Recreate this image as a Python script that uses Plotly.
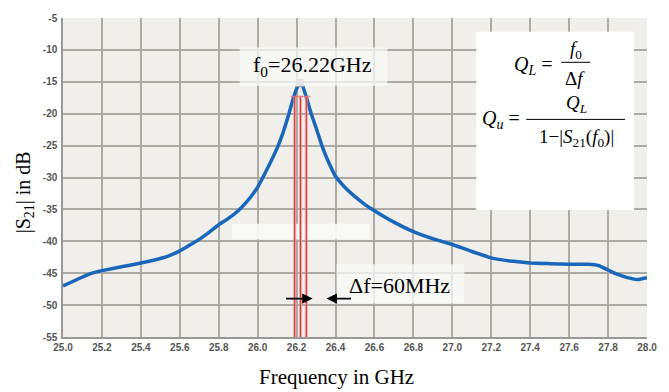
import plotly.graph_objects as go

# ---- data ----
freq_ghz = [25.0, 25.05, 25.1, 25.15, 25.2, 25.3, 25.4, 25.5, 25.55, 25.6, 25.65, 25.7,
            25.75, 25.8, 25.85, 25.9, 25.95, 26.0, 26.05, 26.1, 26.13, 26.16, 26.18,
            26.2, 26.215, 26.23, 26.25, 26.275, 26.3, 26.33, 26.36, 26.4, 26.45, 26.5,
            26.55, 26.6, 26.7, 26.8, 26.9, 27.0, 27.1, 27.2, 27.3, 27.4, 27.5, 27.6,
            27.7, 27.75, 27.8, 27.85, 27.9, 27.95, 28.0]
s21_db = [-47.0, -46.3, -45.6, -45.0, -44.6, -44.0, -43.4, -42.7, -42.2, -41.5, -40.6, -39.7,
          -38.6, -37.4, -36.4, -35.2, -33.6, -31.5, -28.6, -25.4, -23.0, -20.1, -17.9,
          -16.1, -15.2, -15.6, -17.4, -20.0, -22.2, -25.0, -27.3, -29.8, -31.6, -33.0,
          -34.2, -35.2, -37.0, -38.5, -39.6, -40.5, -41.6, -42.6, -43.1, -43.4, -43.5, -43.6,
          -43.6, -43.8, -44.5, -45.2, -45.7, -46.0, -45.7]

peak_f = [26.215]
peak_db = [-15.2]

bw_lines_f = [26.19, 26.22, 26.25]   # red marker lines
bw_level_db = -17.3
bw_h_span = [26.17, 26.27]

x_ticks = [25.0 + 0.2 * i for i in range(16)]
x_ticklabels = [f"{v:.1f}" for v in x_ticks]
y_ticks = [-5, -10, -15, -20, -25, -30, -35, -40, -45, -50, -55]
y_ticklabels = [str(v) for v in y_ticks]

# ---- layout geometry helpers (pixel -> paper) ----
L, R, T, B = 63, 648, 13, 337
def px(x):
    return (x - L) / (R - L)
def py(y):
    return (B - y) / (B - T)

SERIF = "Liberation Serif, Times New Roman, serif"

fig = go.Figure()
fig.add_trace(go.Scatter(x=freq_ghz, y=s21_db, mode="lines",
                         line=dict(color="#1a66b8", width=3.5, shape="spline", smoothing=0.3),
                         hoverinfo="skip", showlegend=False))
fig.add_trace(go.Scatter(x=peak_f, y=peak_db, mode="markers",
                         marker=dict(symbol="square", size=8, color="#9a9a9a"),
                         hoverinfo="skip", showlegend=False))

shapes = []
# faint white strip artifact
shapes.append(dict(type="rect", xref="paper", yref="paper", x0=px(232), x1=px(370),
                   y0=py(238), y1=py(222), fillcolor="rgba(250,250,250,0.9)",
                   line=dict(width=0), layer="above"))
# red bandwidth lines
for f in bw_lines_f:
    shapes.append(dict(type="line", xref="x", yref="y", x0=f, x1=f, y0=bw_level_db, y1=-55,
                       line=dict(color="rgba(240,140,140,0.7)", width=3), layer="above"))
    shapes.append(dict(type="line", xref="x", yref="y", x0=f, x1=f, y0=bw_level_db, y1=-55,
                       line=dict(color="#d03a3a", width=1), layer="above"))
shapes.append(dict(type="line", xref="x", yref="y", x0=bw_h_span[0], x1=bw_h_span[1],
                   y0=bw_level_db, y1=bw_level_db,
                   line=dict(color="rgba(240,110,110,0.8)", width=1.5), layer="above"))
# label boxes
shapes.append(dict(type="rect", xref="paper", yref="paper", x0=px(240), x1=px(388),
                   y0=py(82), y1=py(43), fillcolor="rgba(250,250,250,0.75)",
                   line=dict(width=0), layer="above"))
shapes.append(dict(type="rect", xref="paper", yref="paper", x0=px(337), x1=px(465),
                   y0=py(303), y1=py(263), fillcolor="rgba(250,250,250,0.75)",
                   line=dict(width=0), layer="above"))
shapes.append(dict(type="rect", xref="paper", yref="paper", x0=px(477), x1=px(635),
                   y0=py(208), y1=py(27), fillcolor="white",
                   line=dict(width=0), layer="above"))
# fraction bars
shapes.append(dict(type="line", xref="paper", yref="paper", x0=px(562), x1=px(591),
                   y0=py(58), y1=py(58), line=dict(color="black", width=1), layer="above"))
shapes.append(dict(type="line", xref="paper", yref="paper", x0=px(527), x1=px(626),
                   y0=py(116), y1=py(116), line=dict(color="black", width=1), layer="above"))

ann = []
def text(x, y, s, size=17, ang=0, xa="center"):
    ann.append(dict(xref="paper", yref="paper", x=px(x), y=py(y), text=s, showarrow=False,
                    xanchor=xa, yanchor="middle", textangle=ang,
                    font=dict(family=SERIF, size=size, color="black")))

text(313, 62, "f<sub>0</sub>=26.22GHz", 22)
text(400, 285, "Δf=60MHz", 22)
text(534, 61, "<i>Q<sub>L</sub></i> =", 20)
text(577, 45, "<i>f</i><sub>0</sub>", 19)
text(576, 74, "Δ<i>f</i>", 19)
text(502, 116, "<i>Q<sub>u</sub></i> =", 20)
text(577, 100, "<i>Q<sub>L</sub></i>", 19)
text(577, 135, "1−|<i>S</i><sub>21</sub>(<i>f</i><sub>0</sub>)|", 19)
text(337, 378, "Frequency in GHz", 21)
text(24, 190, "|S<sub>21</sub>| in dB", 20, ang=-90)

# arrows
ann.append(dict(xref="paper", yref="paper", x=px(313), y=py(298), ax=-28, ay=0, text="",
                showarrow=True, arrowhead=2, arrowsize=1.3, arrowwidth=1.6, arrowcolor="black"))
ann.append(dict(xref="paper", yref="paper", x=px(327), y=py(298), ax=26, ay=0, text="",
                showarrow=True, arrowhead=2, arrowsize=1.3, arrowwidth=1.6, arrowcolor="black"))

tickfont = dict(family="Liberation Sans, Arial, sans-serif", size=10, color="#555555", weight="bold")
fig.update_layout(
    width=669, height=392,
    margin=dict(l=L, r=669 - R, t=T, b=392 - B, pad=0),
    paper_bgcolor="white", plot_bgcolor="#f0efeb",
    shapes=shapes, annotations=ann, showlegend=False,
    xaxis=dict(range=[25.0, 28.0], tickvals=x_ticks, ticktext=x_ticklabels,
               showgrid=True, gridcolor="#acaaa5", gridwidth=1.8, zeroline=False,
               showline=True, linecolor="#9a9894", linewidth=1.5, ticks="",
               tickfont=tickfont, ticklabelstandoff=0),
    yaxis=dict(range=[-55, -5], tickvals=y_ticks, ticktext=y_ticklabels,
               showgrid=True, gridcolor="#acaaa5", gridwidth=1.8, zeroline=False,
               showline=True, linecolor="#9a9894", linewidth=1.5, ticks="",
               tickfont=tickfont, ticklabelstandoff=2),
)
fig.write_html("out.html", config={"displayModeBar": False},
               post_script="document.body.style.margin='0';")
